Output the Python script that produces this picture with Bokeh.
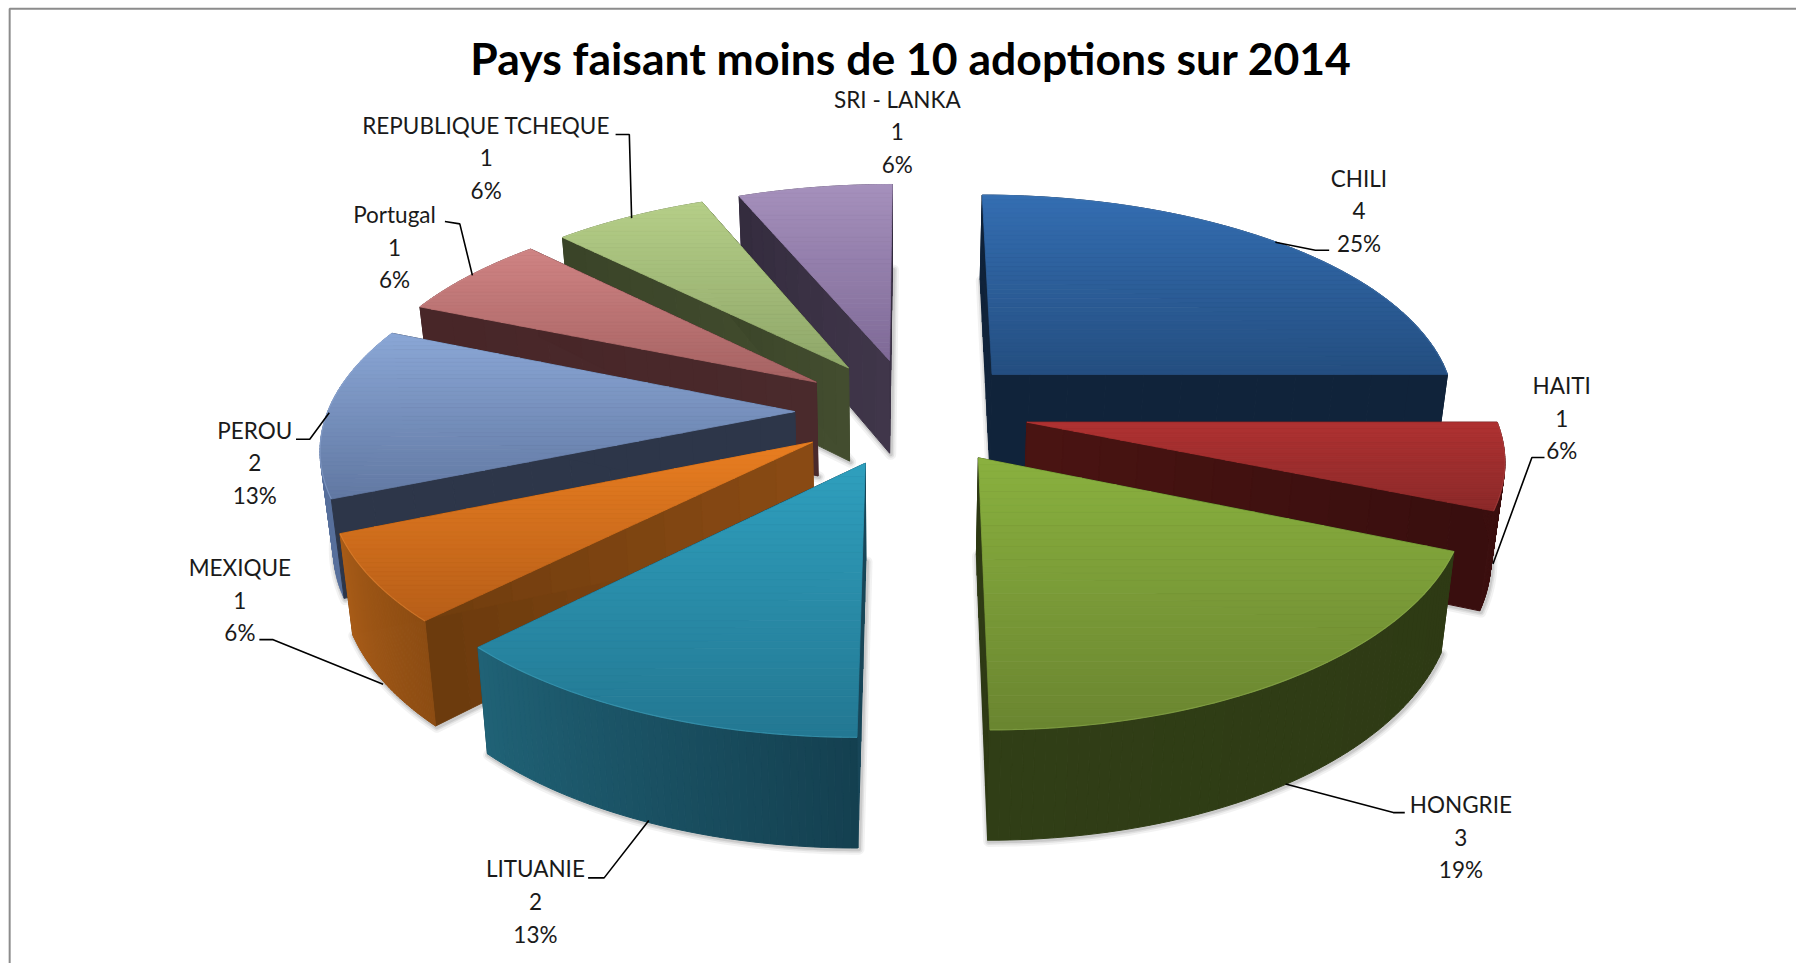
from bokeh.plotting import figure
from bokeh.models import Range1d
from bokeh.core.properties import value
from bokeh.embed import file_html
from bokeh.resources import INLINE
import numpy as np

# ---------- data ----------
categories = ["CHILI", "HAITI", "HONGRIE", "LITUANIE", "MEXIQUE", "PEROU",
              "Portugal", "REPUBLIQUE TCHEQUE", "SRI - LANKA"]
values = [4, 1, 3, 2, 1, 2, 1, 1, 1]
title = "Pays faisant moins de 10 adoptions sur 2014"

# ---------- styles: top gradient, cut-face gradient, outer wall gradient ----------
top_colors = [((52,110,178),(36,78,128)), ((176,50,50),(140,42,42)), ((138,177,63),(106,133,48)),
              ((47,159,190),(35,120,146)), ((233,126,33),(183,94,24)), ((139,167,214),(97,120,162)),
              ((208,132,132),(165,98,98)), ((181,207,136),(143,166,105)), ((165,144,188),(127,106,151))]
cut_colors = [((16,35,58),(16,35,58)), ((74,20,18),(56,14,14)), ((46,58,20),(46,58,20)),
              ((24,70,88),(24,70,88)), ((138,75,20),(107,58,13)), ((45,54,73),(45,54,73)),
              ((74,42,44),(72,38,40)), ((67,77,47),(58,68,40)), ((64,54,74),(52,44,62))]
wall_colors = [((16,35,58),(16,35,58)), ((60,16,16),(60,16,16)), ((46,58,20),(48,62,22)),
               ((20,64,80),(32,98,118)), ((140,76,18),(168,92,24)), ((88,112,156),(88,112,156)),
               ((74,42,44),(74,42,44)), ((67,77,47),(67,77,47)), ((64,54,74),(64,54,74))]
draw_order = [0, 8, 7, 6, 5, 1, 4, 2, 3]

# ---------- projection of the exploded 3-D pie (coordinates in 1568-wide units) ----------
S = 1796 / 1568
VX, VY, AX, Q, K, EXPL, U0 = 778.0, -950.0, 0.3115, 7.64e-4, 1.10e-4, 0.25, 0.04

def project(u, up):
    u, up = np.asarray(u, float), np.asarray(up, float)
    w = 1.0 / (Q + K * up)
    y = VY + w
    x = VX + AX * w * u - 0.013 * (y - 440.0)
    return x, y + 0.012 * np.maximum(y - 440.0, 0.0) + 0.008 * np.maximum(250.0 - y, 0.0)

def drop(x, y):
    w = np.asarray(y) - VY
    return VX + (np.asarray(x) - VX) * 0.977, np.asarray(y) + 20.5 + 0.0478 * w

def mix(c1, c2, t):
    return "#%02x%02x%02x" % tuple(int(round(a + (b - a) * t)) for a, b in zip(c1, c2))

def clip_band(xs, ys, y0, y1):
    pts = list(zip(xs, ys))
    for lim, keep_above in ((y0, True), (y1, False)):
        out = []
        for i in range(len(pts)):
            p_, q_ = pts[i], pts[(i + 1) % len(pts)]
            ip = (p_[1] >= lim) if keep_above else (p_[1] <= lim)
            iq = (q_[1] >= lim) if keep_above else (q_[1] <= lim)
            if ip:
                out.append(p_)
            if ip != iq:
                t = (lim - p_[1]) / (q_[1] - p_[1])
                out.append((p_[0] + t * (q_[0] - p_[0]), lim))
        pts = out
        if not pts:
            return None
    return [a for a, _ in pts], [b for _, b in pts]

W, H = 1796, 963
p = figure(width=W, height=H, output_backend="svg", toolbar_location=None,
           x_range=Range1d(0, W / S), y_range=Range1d(H / S, 0),
           min_border=0, outline_line_color=None)
p.xaxis.visible = False
p.yaxis.visible = False
p.grid.visible = False
p.background_fill_color = "white"

FONT = value("Lato")

# frame of the pasted picture
p.line([8.0, 8.0, 1568.0], [845.0, 7.2, 7.2], line_color="#8c8c8c", line_width=2)

total = sum(values)
angles = np.cumsum([0] + values) / total * 2 * np.pi

def slice_geom(i):
    a, b = angles[i], angles[i + 1]
    mid = (a + b) / 2
    au, aup = U0 + EXPL * np.sin(mid), EXPL * np.cos(mid)
    th = np.linspace(a, b, 60)
    ax, ay = project(au, aup)
    arcx, arcy = project(au + np.sin(th), aup + np.cos(th))
    return a, b, au, aup, th, float(ax), float(ay), arcx, arcy

# soft shadows lie beneath every slice
for i in draw_order:
    a, b, au, aup, th, ax, ay, arcx, arcy = slice_geom(i)
    botx, boty = drop(np.r_[ax, arcx], np.r_[ay, arcy])
    for lw, alpha in ((11, 0.07), (7, 0.10), (4, 0.14)):
        p.patch(botx + 1, boty + 1, fill_alpha=0, line_color="#444444", line_alpha=alpha,
                line_width=lw, line_join="round")

def draw_cuts(a, b, au, aup, i):
    for edge_th in (a, b):
        n = 12
        c1, c2 = cut_colors[i]
        ts = np.linspace(0, 1, n + 1)
        ex, ey = project(au + ts * np.sin(edge_th), aup + ts * np.cos(edge_th))
        dx, dy = drop(ex, ey)
        xs = [[ex[k], ex[k + 1], dx[k + 1], dx[k]] for k in range(n)]
        ys = [[ey[k], ey[k + 1], dy[k + 1], dy[k]] for k in range(n)]
        cols = [mix(c1, c2, (k + .5) / n) for k in range(n)]
        p.patches(xs, ys, fill_color=cols, line_color=cols, line_width=1)

def draw_outer(th, arcx, arcy, i):
    dx, dy = drop(arcx, arcy)
    c1, c2 = wall_colors[i]
    m = len(th) - 1
    xs = [[arcx[k], arcx[k + 1], dx[k + 1], dx[k]] for k in range(m)]
    ys = [[arcy[k], arcy[k + 1], dy[k + 1], dy[k]] for k in range(m)]
    cols = [mix(c1, c2, (k + .5) / m) for k in range(m)]
    p.patches(xs, ys, fill_color=cols, line_color=cols, line_width=1)

for i in draw_order:
    a, b, au, aup, th, ax, ay, arcx, arcy = slice_geom(i)
    topx = np.r_[ax, arcx]; topy = np.r_[ay, arcy]
    if aup >= -1e-9:          # back half: the outer wall is behind the cut faces
        draw_outer(th, arcx, arcy, i)
        draw_cuts(a, b, au, aup, i)
    else:
        draw_cuts(a, b, au, aup, i)
        draw_outer(th, arcx, arcy, i)
    # top face with a vertical gradient
    c1, c2 = top_colors[i]
    ymin, ymax = topy.min(), topy.max()
    nb = 40
    edges = np.linspace(ymin, ymax, nb + 1)
    xs, ys, cols = [], [], []
    for k in range(nb):
        r = clip_band(topx, topy, edges[k], edges[k + 1])
        if r:
            xs.append(r[0]); ys.append(r[1]); cols.append(mix(c1, c2, (k + .5) / nb))
    p.patches(xs, ys, fill_color=cols, line_color=cols, line_width=0.8)
    p.line(arcx, arcy, line_color=mix(c1, (255, 255, 255), 0.12), line_width=1.2, line_alpha=0.45)

# ---------- title, labels, leaders ----------
p.text([795.0], [50.0], text=[title], text_font=FONT, text_font_style="bold", text_font_size="44.5px",
       text_align="center", text_baseline="middle", text_color="#000000")

label_x = [1186, 1363, 1275, 467, 209, 222, 344, 424, 783]
label_y = [155, 336, 702, 758, 495, 375, 187, 109, 86]
LINE = 28.5
for name, v, x, y in zip(categories, values, label_x, label_y):
    pct = "%d%%" % int(100 * v / total + 0.5)
    for k, t in enumerate((name, str(v), pct)):
        p.text([x], [y + k * LINE], text=[t], text_font=FONT, text_font_size="22.5px",
               text_align="center", text_baseline="middle", text_color="#1a1a1a")

leader_x = [[1160, 1148, 1113], [1348, 1337, 1303], [1226, 1216, 1122], [513, 527, 566],
            [226, 238, 334], [258, 270, 287], [388, 401, 412], [537, 549, 551]]
leader_y = [[218, 218, 211], [399, 399, 492], [709, 709, 684], [766, 766, 716],
            [558, 558, 597], [383, 383, 360], [193, 195, 240], [117, 117, 190]]
p.multi_line(leader_x, leader_y, line_color="#000000", line_width=1.6)

open("out.html", "w").write(file_html(p, INLINE))
